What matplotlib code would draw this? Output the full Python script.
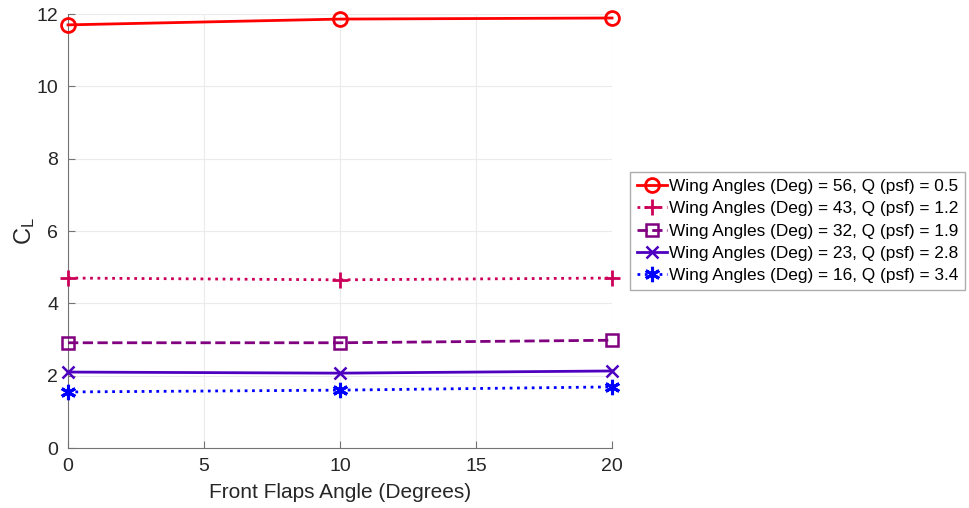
import matplotlib
matplotlib.use("Agg")
import matplotlib.pyplot as plt

flaps = [0, 10, 20]
cl_56 = [11.70, 11.86, 11.89]
cl_43 = [4.70, 4.65, 4.70]
cl_32 = [2.91, 2.91, 2.98]
cl_23 = [2.10, 2.07, 2.13]
cl_16 = [1.55, 1.60, 1.69]
labels = [
    "Wing Angles (Deg) = 56, Q (psf) = 0.5",
    "Wing Angles (Deg) = 43, Q (psf) = 1.2",
    "Wing Angles (Deg) = 32, Q (psf) = 1.9",
    "Wing Angles (Deg) = 23, Q (psf) = 2.8",
    "Wing Angles (Deg) = 16, Q (psf) = 3.4",
]

plt.rcParams['font.family'] = ['Liberation Sans', 'DejaVu Sans']

fig = plt.figure(figsize=(9.69, 5.08), dpi=100)
ax = fig.add_axes([0.0702, 0.1181, 0.5614, 0.8543])

styles = [
    dict(color=(1, 0, 0), ls='-', marker='o', ms=10, mfc='none', mew=2),
    dict(color=(0.8, 0.0, 0.35), ls=':', marker='+', ms=12, mew=2),
    dict(color=(0.5, 0.0, 0.5), ls='--', marker='s', ms=8, mfc='none', mew=1.8),
    dict(color=(0.3, 0.0, 0.75), ls='-', marker='x', ms=8, mew=1.8),
    dict(color=(0.0, 0.0, 1.0), ls=':', marker=(6, 2, 0), ms=11, mew=2.2),
]
series = [cl_56, cl_43, cl_32, cl_23, cl_16]
for ys, st, lab in zip(series, styles, labels):
    ax.plot(flaps, ys, lw=2, label=lab, clip_on=False, zorder=3, **st)

ax.set_xlim(0, 20)
ax.set_ylim(0, 12)
ax.set_xticks([0, 5, 10, 15, 20])
ax.set_yticks([0, 2, 4, 6, 8, 10, 12])
ax.grid(True, color=(0.92, 0.92, 0.92), lw=0.8)
ax.set_axisbelow(True)
for s in ['top', 'right']:
    ax.spines[s].set_visible(False)
for s in ['left', 'bottom']:
    ax.spines[s].set_color((0.45, 0.45, 0.45))
ax.tick_params(direction='in', length=5, color=(0.45, 0.45, 0.45),
               labelsize=14, labelcolor=(0.15, 0.15, 0.15), pad=7)
ax.set_xlabel("Front Flaps Angle (Degrees)", fontsize=15, color=(0.15, 0.15, 0.15), labelpad=6)
ax.set_ylabel("$\\mathregular{C_L}$", fontsize=17, color=(0.15, 0.15, 0.15), labelpad=0)

leg = fig.legend(loc='center left', bbox_to_anchor=(630 / 969, (508 - 231) / 508),
                 fontsize=12.4, frameon=True, fancybox=False, edgecolor=(0.6, 0.6, 0.6),
                 handlelength=1.75, handletextpad=0.12, borderpad=0.4, labelspacing=0.43,
                 borderaxespad=0)
leg.get_frame().set_linewidth(1)

fig.savefig("out.png", dpi=100)
